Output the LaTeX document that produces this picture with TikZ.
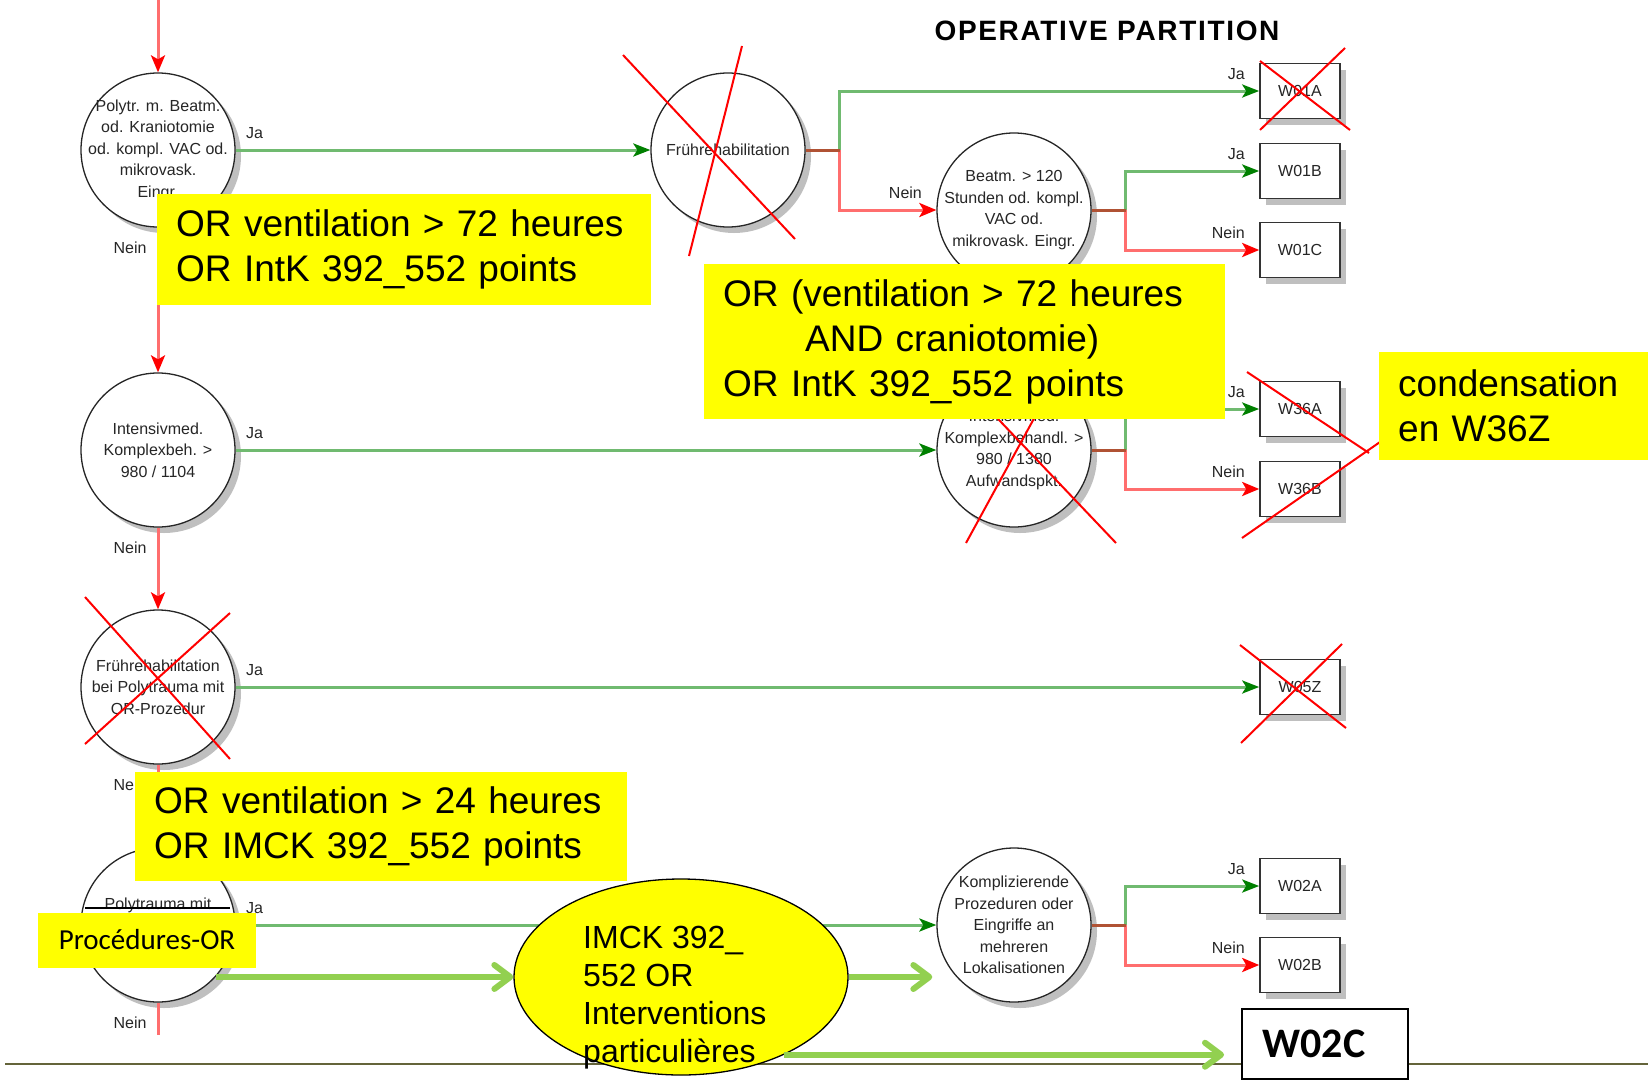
\documentclass[tikz,border=0pt]{standalone}
\usepackage{fontspec}
\setmainfont{Liberation Sans}
\newfontfamily\calibrifont{Carlito}
\usepackage{tikz}
\usetikzlibrary{arrows.meta,positioning,shapes.geometric,shadows}
\definecolor{jagreen}{RGB}{112,186,112}
\definecolor{jadark}{RGB}{0,128,0}
\definecolor{neinred}{RGB}{255,110,110}
\definecolor{splitbrown}{RGB}{176,82,52}
\definecolor{fatgreen}{RGB}{146,208,80}
\definecolor{rulegreen}{RGB}{100,100,58}
\definecolor{noteyellow}{RGB}{255,255,0}
\tikzset{every shadow/.style={fill=black!55,opacity=.45}}
\tikzset{
  decision/.style={circle,draw=black!85,line width=1.3pt,fill=white,minimum size=154pt,inner sep=-20pt,align=center,text=black!85,font=\fontsize{16}{21.5}\selectfont,drop shadow={shadow xshift=6pt,shadow yshift=-6pt}},
  outcome/.style={rectangle,draw=black!80,line width=1.6pt,fill=white,minimum width=80pt,minimum height=55pt,text=black!85,font=\fontsize{16}{19}\selectfont,drop shadow={shadow xshift=6pt,shadow yshift=-6pt}},
  lbl/.style={inner sep=1pt,text=black!85,font=\fontsize{16}{19}\selectfont},
  jaline/.style={draw=jagreen,line width=3pt,-{Stealth[length=17pt,width=13pt,inset=4pt,color=jadark]}},
  neinline/.style={draw=neinred,line width=3pt,-{Stealth[length=17pt,width=14pt,inset=4pt,color=red]}},
  splitline/.style={draw=splitbrown,line width=3pt},
  crossout/.style={draw=red,line width=2pt},
  note/.style={fill=noteyellow,anchor=north west,inner xsep=19pt,align=left,font=\fontsize{37}{45}\selectfont},
  fatarrow/.style={draw=fatgreen,line width=6pt,-{Straight Barb[length=16pt,width=24pt,round]}}
}

\begin{document}
\begin{tikzpicture}[x=1pt,y=-1pt]
\path[use as bounding box,fill=white] (0,0) rectangle (1648,1081);
% \draw[help lines] (0,0) grid[step=100] (1648,1081);
\draw[rulegreen,line width=2pt] (5,1064) -- (1648,1064);
%
\node (title) [font=\bfseries\fontsize{28}{32}\selectfont\addfontfeature{LetterSpace=6}] at (1107,31) {OPERATIVE PARTITION};
%
\node (polytr) [decision] at (158,150) {Polytr. m. Beatm.\\od. Kraniotomie\\od. kompl. VAC od.\\mikrovask.\\Eingr.};
\node (intens) [decision] at (158,450) {Intensivmed.\\Komplexbeh. >\\980 / 1104};
\node (fruehpoly) [decision] at (158,687) {Frührehabilitation\\bei Polytrauma mit\\OR-Prozedur};
\node (polymit) [decision] at (158,925) {Polytrauma mit\\\mbox{}\\\mbox{}};
\node (fruehreha) [decision] at (728,150) {Frührehabilitation};
\node (beatm) [decision] at (1014,210) {Beatm. > 120\\Stunden od. kompl.\\VAC od.\\mikrovask. Eingr.};
\node (intens2) [decision] at (1014,450) {Intensivmed.\\Komplexbehandl. >\\980 / 1380\\Aufwandspkt.};
\node (kompl) [decision] at (1014,925) {Komplizierende\\Prozeduren oder\\Eingriffe an\\mehreren\\Lokalisationen};
%
\node (w01a) [outcome] at (1300,91) {W01A};
\node (w01b) [outcome] at (1300,171) {W01B};
\node (w01c) [outcome] at (1300,250) {W01C};
\node (w36a) [outcome] at (1300,409) {W36A};
\node (w36b) [outcome] at (1300,489) {W36B};
\node (w05z) [outcome] at (1300,687) {W05Z};
\node (w02a) [outcome] at (1300,886) {W02A};
\node (w02b) [outcome] at (1300,965) {W02B};
%
\coordinate (entry) at (158,0);
\coordinate (exit) at (158,1035);
\draw[neinline] (entry) -- (polytr);
\draw[neinline] (polytr) -- node[lbl,pos=0,below left=12pt and 9pt] {Nein} (intens);
\draw[neinline] (intens) -- node[lbl,pos=0,below left=12pt and 9pt] {Nein} (fruehpoly);
\draw[neinline] (fruehpoly) -- node[lbl,pos=0,below left=12pt and 9pt] {Nein} (polymit);
\draw[neinred,line width=3pt] (polymit) -- node[lbl,pos=0,below left=12pt and 9pt] {Nein} (exit);
%
\draw[jaline] (polytr) -- node[lbl,pos=0,above right=9pt and 8pt] {Ja} (fruehreha);
\draw[jaline] (intens) -- node[lbl,pos=0,above right=9pt and 8pt] {Ja} (intens2);
\draw[jaline] (fruehpoly) -- node[lbl,pos=0,above right=9pt and 8pt] {Ja} (w05z);
\draw[jaline] (polymit) -- node[lbl,pos=0,above right=9pt and 8pt] {Ja} (kompl);
%
\draw[jaline] (fruehreha.east) ++(34,0) coordinate (frsplit) |- node[lbl,pos=1,above left=9pt and 12pt] {Ja} (w01a);
\draw[neinline] (frsplit) |- node[lbl,pos=1,above left=9pt and 12pt] {Nein} (beatm);
\draw[splitline] (fruehreha.east) -- (frsplit);
\draw[jaline] (beatm.east) ++(34,0) coordinate (btsplit) |- node[lbl,pos=1,above left=9pt and 12pt] {Ja} (w01b);
\draw[neinline] (btsplit) |- node[lbl,pos=1,above left=9pt and 12pt] {Nein} (w01c);
\draw[splitline] (beatm.east) -- (btsplit);
\draw[jaline] (intens2.east) ++(34,0) coordinate (insplit) |- node[lbl,pos=1,above left=9pt and 12pt] {Ja} (w36a);
\draw[neinline] (insplit) |- node[lbl,pos=1,above left=9pt and 12pt] {Nein} (w36b);
\draw[splitline] (intens2.east) -- (insplit);
\draw[jaline] (kompl.east) ++(34,0) coordinate (kosplit) |- node[lbl,pos=1,above left=9pt and 12pt] {Ja} (w02a);
\draw[neinline] (kosplit) |- node[lbl,pos=1,above left=9pt and 12pt] {Nein} (w02b);
\draw[splitline] (kompl.east) -- (kosplit);
%
\draw[crossout] (623,55) -- (795,239) (742,46) -- (689,256);
\draw[crossout] (1260,61) -- (1350,130) (1345,48) -- (1260,130);
\draw[crossout] (966,543) -- (1055,380) (1116,543) -- (961,380);
\draw[crossout] (1247,372) -- (1369,453) (1242,538) -- (1380,442);
\draw[crossout] (85,597) -- (230,759) (230,613) -- (85,744);
\draw[crossout] (1240,645) -- (1346,728) (1342,644) -- (1241,743);
\draw[black,line width=1.5pt] (85,908) -- (230,908);
%
\node (note1) [note,minimum width=494pt,minimum height=111pt,text width=456pt] at (157,194) {OR ventilation > 72 heures\\OR IntK 392\_552 points};
\node (note2) [note,minimum width=521pt,minimum height=155pt,text width=483pt] at (704,264) {OR (ventilation > 72 heures\\\hspace*{82pt}AND craniotomie)\\OR IntK 392\_552 points};
\node (note3) [note,minimum width=269pt,minimum height=108pt,text width=231pt] at (1379,352) {condensation\\en W36Z};
\node (note4) [note,minimum width=492pt,minimum height=109pt,text width=454pt] at (135,772) {OR ventilation > 24 heures\\OR IMCK 392\_552 points};
\node (procor) [fill=noteyellow,minimum width=218pt,minimum height=55pt,font=\calibrifont\fontsize{29}{34}\selectfont] at (147,940) {Procédures-OR};
%
\node (imck) [ellipse,draw=black,line width=1.3pt,fill=noteyellow,minimum width=334pt,minimum height=196pt,inner sep=0pt] at (681,977) {};
\node (imcktext) [anchor=west,inner sep=0pt,align=left,font=\fontsize{32}{38}\selectfont] at (583,998) {IMCK 392\_\\552 OR\\Interventions\\particulières};
\node (w02c) [draw=black,line width=2pt,fill=white,minimum width=166pt,minimum height=70pt,font=\calibrifont\bfseries\fontsize{42}{50}\selectfont] at (1325,1044) {\kern-22pt W02C};
%
\draw[fatarrow] (polymit.-42) -- (polymit.-42 -| imck.west);
\draw[fatarrow,shorten >=4pt] (imck.east) -- (imck.east -| kompl.west);
\draw[fatarrow,shorten >=17pt] (imck.-37) -- (imck.-37 -| w02c.west);
\end{tikzpicture}
\end{document}
